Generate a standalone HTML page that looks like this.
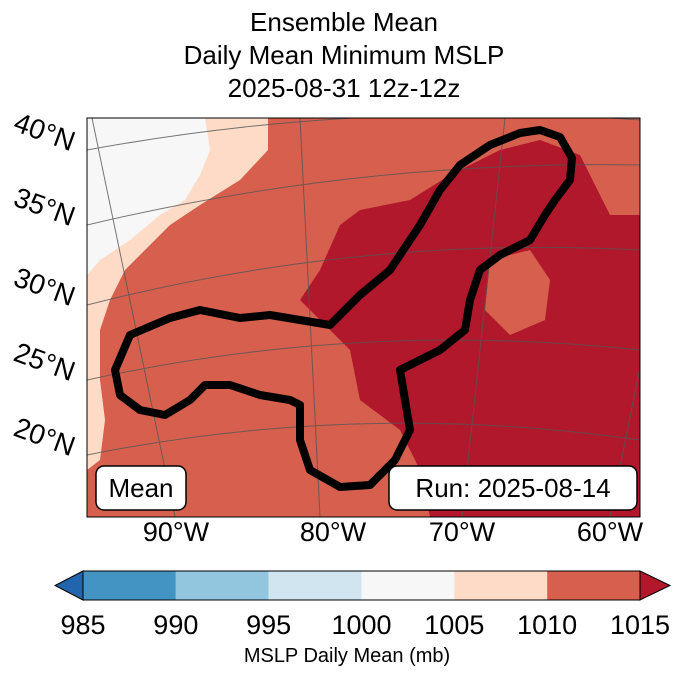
<!DOCTYPE html>
<html><head><meta charset="utf-8"><style>
body{margin:0;background:#fff;font-family:"Liberation Sans",sans-serif}
</style></head><body>
<svg width="688" height="674" viewBox="0 0 688 674" xmlns="http://www.w3.org/2000/svg" font-family="Liberation Sans, sans-serif">
<g font-size="26" text-anchor="middle" fill="#000">
<text x="344" y="31">Ensemble Mean</text>
<text x="344" y="64">Daily Mean Minimum MSLP</text>
<text x="344" y="97">2025-08-31 12z-12z</text>
</g>
<defs><clipPath id="mc"><rect x="87" y="118" width="553" height="399"/></clipPath></defs>
<g clip-path="url(#mc)">
<rect x="87" y="118" width="553" height="399" fill="#d6604d"/>
<polygon fill="#fddbc7" points="87,118 268,118 268,150 240,180 200,205 170,225 150,245 125,270 110,300 100,330 100,380 105,420 100,460 87,470"/>
<polygon fill="#f7f7f7" points="87,118 205,118 210,150 200,175 185,200 160,215 130,240 100,260 87,275"/>
<polygon fill="#b2182b" points="340,225 360,210 410,200 450,175 500,150 540,140 580,155 610,215 640,215 640,517 430,517 420,470 400,430 360,400 350,350 330,330 300,300 320,270"/>
<polygon fill="#d6604d" points="490,260 530,250 550,280 545,320 510,335 485,310"/>
<g stroke="#555" stroke-width="1" fill="none" opacity="0.8">
<line x1="92" y1="118" x2="175" y2="517"/><line x1="300" y1="118" x2="320" y2="517"/><line x1="505" y1="118" x2="462" y2="517"/><line x1="690" y1="118" x2="610" y2="517"/>
<path d="M87,150 Q360,100 640,120"/><path d="M87,225 Q360,160 640,165"/><path d="M87,305 Q360,235 640,250"/><path d="M87,380 Q360,320 640,350"/><path d="M87,455 Q360,400 640,440"/>
</g>
<path fill="none" stroke="#000" stroke-width="8" stroke-linejoin="round" d="M115,370 L130,335 170,318 200,310 240,318 270,315 300,320 330,325 360,295 390,270 420,225 440,190 460,165 490,145 520,133 540,130 560,137 572,158 570,180 555,200 545,215 530,240 500,255 480,270 470,300 465,330 440,350 410,365 400,370 405,400 410,430 395,460 370,485 340,487 310,470 300,440 300,405 290,400 260,395 230,385 205,385 190,400 165,415 140,410 120,395 Z"/>
<rect x="96" y="466" width="90" height="44" rx="8" fill="#fff" stroke="#000" stroke-width="1.5"/>
<text x="141" y="497" font-size="26" text-anchor="middle">Mean</text>
<rect x="389" y="466" width="248" height="44" rx="8" fill="#fff" stroke="#000" stroke-width="1.5"/>
<text x="513" y="497" font-size="26" text-anchor="middle">Run: 2025-08-14</text>
</g>
<rect x="87" y="118" width="553" height="399" fill="none" stroke="#000" stroke-width="1"/>
<g font-size="28" fill="#000">
<text transform="translate(12,130) rotate(20)">40°N</text>
<text transform="translate(12,205) rotate(20)">35°N</text>
<text transform="translate(12,285) rotate(20)">30°N</text>
<text transform="translate(12,360) rotate(20)">25°N</text>
<text transform="translate(12,435) rotate(20)">20°N</text>
</g>
<g font-size="27" text-anchor="middle">
<text x="176" y="541">90°W</text><text x="333" y="541">80°W</text><text x="462" y="541">70°W</text><text x="610" y="541">60°W</text>
</g>
<g id="cbar"></g>
<text x="347" y="662" font-size="20" text-anchor="middle">MSLP Daily Mean (mb)</text>
</svg>
<script>
const ticks=[985,990,995,1000,1005,1010,1015];
const colors=['#4393c3','#92c5de','#d1e5f0','#f7f7f7','#fddbc7','#d6604d'];
const g=document.getElementById('cbar');const NS='http://www.w3.org/2000/svg';
const x0=83,x1=640,y0=571,h=29;
const sx=v=>x0+(v-ticks[0])/(ticks[ticks.length-1]-ticks[0])*(x1-x0);
function mk(t,a){const e=document.createElementNS(NS,t);for(const k in a)e.setAttribute(k,a[k]);g.appendChild(e);return e;}
const lt=mk('polygon',{points:`${x0},${y0} 55,${y0+h/2} ${x0},${y0+h}`,fill:'#2166ac',stroke:'#000'});


const rt=mk('polygon',{points:`${x1},${y0} 670,${y0+h/2} ${x1},${y0+h}`,fill:'#b2182b',stroke:'#000'});


for(let i=0;i<colors.length;i++){
const r=mk('rect',{x:sx(ticks[i]),y:y0,width:sx(ticks[i+1])-sx(ticks[i]),height:h,fill:colors[i]});

}
mk('rect',{x:x0,y:y0,width:x1-x0,height:h,fill:'none',stroke:'#000'});
ticks.forEach(v=>{const t=mk('text',{x:sx(v),y:634,'font-size':27,'text-anchor':'middle'});t.textContent=v;

});
</script>
</body></html>
